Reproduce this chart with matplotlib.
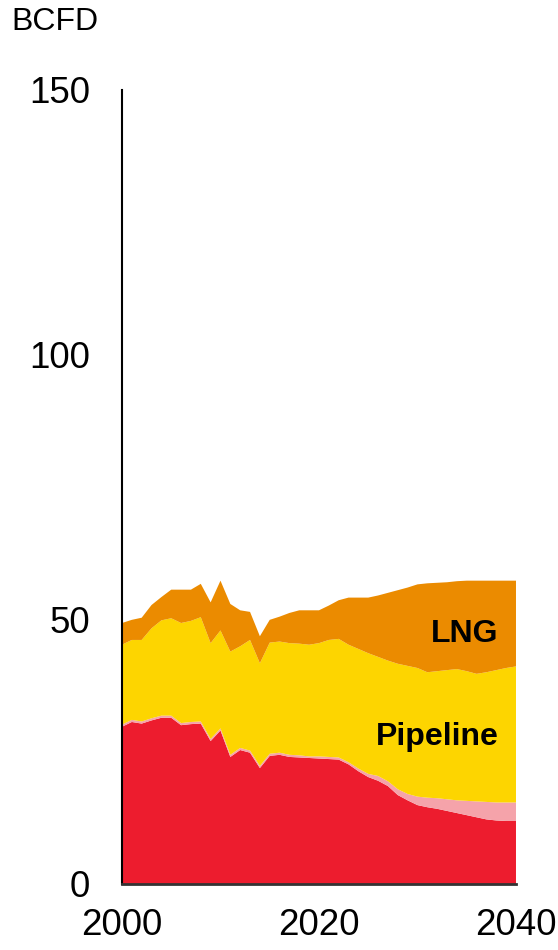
import matplotlib
matplotlib.use("Agg")
import matplotlib.pyplot as plt

plt.rcParams['font.family'] = ['Liberation Sans', 'DejaVu Sans']

# Annual values, BCFD
years = list(range(2000, 2041))

domestic = [29.7, 30.6, 30.3, 30.9, 31.4, 31.4, 30.0, 30.2, 30.3, 27.0,
            29.0, 24.0, 25.3, 24.8, 21.9, 24.2, 24.4, 24.0, 23.9, 23.8,
            23.7, 23.6, 23.5, 22.6, 21.3, 20.2, 19.5, 18.5, 16.8, 15.8,
            14.9, 14.5, 14.2, 13.8, 13.4, 13.0, 12.6, 12.2, 12.0, 11.9,
            11.9]

other = [0.4, 0.4, 0.4, 0.4, 0.4, 0.4, 0.4, 0.4, 0.4, 0.4,
         0.4, 0.4, 0.4, 0.4, 0.4, 0.4, 0.4, 0.4, 0.4, 0.3,
         0.4, 0.4, 0.4, 0.4, 0.5, 0.6, 0.9, 0.9, 1.1, 1.2,
         1.6, 1.8, 2.0, 2.2, 2.4, 2.7, 3.0, 3.3, 3.4, 3.5,
         3.5]

pipeline = [15.1, 15.1, 15.4, 17.0, 18.0, 18.4, 18.9, 19.1, 19.7, 18.1,
            18.5, 19.5, 19.2, 20.9, 19.4, 21.0, 21.0, 21.1, 21.1, 21.1,
            21.4, 22.1, 22.4, 22.2, 22.6, 22.8, 22.5, 22.8, 23.7, 24.2,
            24.3, 23.7, 24.0, 24.4, 24.8, 24.5, 24.1, 24.5, 25.0, 25.4,
            25.7]

lng = [4.1, 3.8, 4.2, 4.4, 4.4, 5.4, 6.3, 5.9, 6.3, 7.7,
       9.4, 9.0, 6.8, 5.3, 5.1, 4.3, 4.7, 5.7, 6.3, 6.5,
       6.2, 6.5, 7.3, 8.9, 9.7, 10.5, 11.6, 12.8, 13.9, 14.8,
       15.8, 16.8, 16.7, 16.6, 16.6, 17.1, 17.6, 17.3, 16.9, 16.5,
       16.2]

colors = ['#ED1C2E', '#F5A3AA', '#FDD500', '#EB8B00']

fig = plt.figure(figsize=(5.58, 9.5), dpi=100)
ax = fig.add_axes([0.2186, 0.0695, 0.7061, 0.8358])

ax.stackplot(years, domestic, other, pipeline, lng, colors=colors, linewidth=0)

ax.set_xlim(2000, 2040)
ax.set_ylim(0, 150)
ax.set_xticks([2000, 2020, 2040])
ax.set_yticks([0, 50, 100, 150])
ax.tick_params(axis='both', length=0, labelsize=26.5)
ax.tick_params(axis='y', pad=23)
ax.tick_params(axis='x', pad=17)

for s in ['top', 'right']:
    ax.spines[s].set_visible(False)
ax.spines['left'].set_color('black')
ax.spines['left'].set_linewidth(1.5)
ax.spines['bottom'].set_color('#333333')
ax.spines['bottom'].set_linewidth(2)

ax.text(2038.2, 47.3, 'LNG', ha='right', va='center', fontsize=23, fontweight='bold')
ax.text(2038.2, 27.8, 'Pipeline', ha='right', va='center', fontsize=23, fontweight='bold')

fig.text(0.021, 0.993, 'BCFD', ha='left', va='top', fontsize=23)

fig.savefig('out.png', dpi=100)
